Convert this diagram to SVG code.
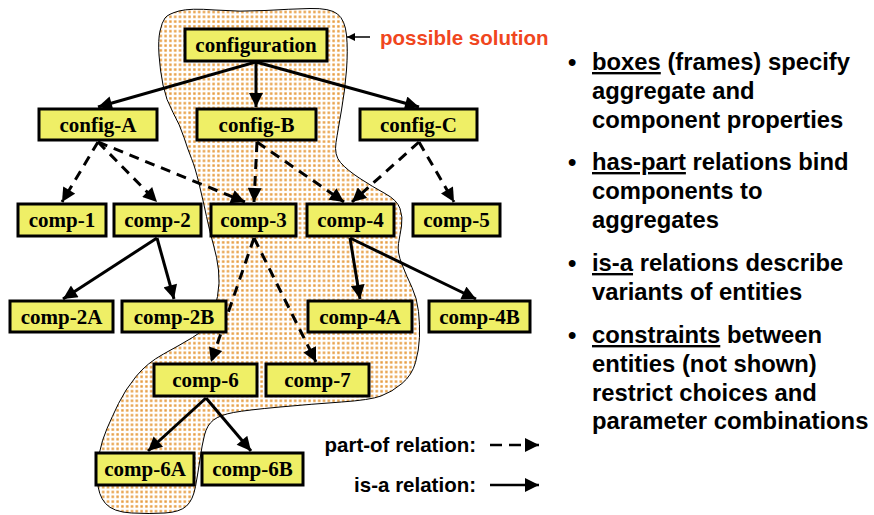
<svg xmlns="http://www.w3.org/2000/svg" width="874" height="515" viewBox="0 0 874 515">
  <defs>
    <pattern id="dots" width="4.8" height="4.8" patternUnits="userSpaceOnUse">
      <rect x="1.2" y="1.2" width="2.4" height="2.4" fill="#E69A3C"/>
    </pattern>
    <marker id="ah" viewBox="0 0 10 10" refX="10" refY="5" markerWidth="15" markerHeight="14" markerUnits="userSpaceOnUse" orient="auto">
      <path d="M0,0 L10,5 L0,10 z" fill="#000"/>
    </marker>
    <marker id="ahs" viewBox="0 0 10 10" refX="10" refY="5" markerWidth="9" markerHeight="8" markerUnits="userSpaceOnUse" orient="auto">
      <path d="M0,0 L10,5 L0,10 z" fill="#000"/>
    </marker>
  </defs>
  <style>
    .box { fill: #EFEF66; stroke: #000; stroke-width: 3; }
    .lbl { font-family: "Liberation Serif", "Times New Roman", serif; font-weight: bold; font-size: 21px; text-anchor: middle; fill: #000; }
    .isa { stroke: #000; stroke-width: 3; fill: none; marker-end: url(#ah); }
    .part { stroke: #000; stroke-width: 3; fill: none; stroke-dasharray: 10 7; marker-end: url(#ah); }
    .sans { font-family: "Liberation Sans", Arial, sans-serif; font-weight: bold; fill: #000; }
    .bul { font-size: 23.8px; }
    .u { text-decoration: underline; }
  </style>

  <rect width="874" height="515" fill="#fff"/>

  <!-- region marking one possible solution -->
  <path id="solution" d="M165,18 Q168,14 179,11 Q190,8 215,10 Q240,12 265,10.5 Q290,9 310,8.5 Q330,8 337.5,14 Q345,20 346.5,35 Q348,50 346.5,70 Q345,90 341.5,110 Q338,130 336,142.5 Q334,155 340.5,162.5 Q347,170 360,178.5 Q373,187 385,193.5 Q397,200 400,208.5 Q403,217 401.5,226 Q400,235 398.5,243.5 Q397,252 402,264.5 Q407,277 412,287.5 Q417,298 418.5,311.5 Q420,325 419.5,337.5 Q419,350 415.5,362.5 Q412,375 402,383.5 Q392,392 381,396 Q370,400 341.5,402 Q313,404 280,407 Q247,410 233.5,412.5 Q220,415 213.5,420 Q207,425 204.5,435 Q202,445 200,459 Q198,473 195.5,486.5 Q193,500 186.5,506 Q180,512 165,513 Q150,514 131.5,513 Q113,512 105.5,503.5 Q98,495 97.5,480 Q97,465 99.5,452.5 Q102,440 107,428.5 Q112,417 118.5,403.5 Q125,390 136,376.5 Q147,363 163.5,354 Q180,345 192.5,337.5 Q205,330 210,320 Q215,310 217.5,296.5 Q220,283 218.5,270 Q217,257 213.5,245 Q210,233 206.5,216.5 Q203,200 199,183.5 Q195,167 191.5,158.5 Q188,150 184,137.5 Q180,125 173,112.5 Q166,100 163,85 Q160,70 159,55 Q158,40 160,31 Q162,22 165,18 Z" fill="url(#dots)" stroke="#000" stroke-width="1"/>

  <!-- connectors -->
  <g id="connectors">
    <line class="isa" x1="256" y1="62" x2="98" y2="107"/>
    <line class="isa" x1="256" y1="62" x2="256" y2="107"/>
    <line class="isa" x1="256" y1="62" x2="419" y2="107"/>
    <line class="part" x1="98" y1="142" x2="62" y2="202"/>
    <line class="part" x1="98" y1="142" x2="157" y2="202"/>
    <line class="part" x1="98" y1="142" x2="245" y2="202"/>
    <line class="part" x1="257" y1="142" x2="254" y2="202"/>
    <line class="part" x1="257" y1="142" x2="344" y2="202"/>
    <line class="part" x1="419" y1="142" x2="352" y2="202"/>
    <line class="part" x1="419" y1="142" x2="454" y2="202"/>
    <line class="isa" x1="157" y1="238" x2="63" y2="299"/>
    <line class="isa" x1="157" y1="238" x2="174" y2="299"/>
    <line class="isa" x1="350" y1="238" x2="360" y2="299"/>
    <line class="isa" x1="350" y1="238" x2="476" y2="299"/>
    <line class="part" x1="254" y1="238" x2="211" y2="362"/>
    <line class="part" x1="254" y1="238" x2="316" y2="362"/>
    <line class="isa" x1="206" y1="398" x2="148" y2="451"/>
    <line class="isa" x1="206" y1="398" x2="251" y2="451"/>
  </g>

  <!-- frames -->
  <g id="configuration"><rect class="box" x="185" y="29" width="142" height="32"/><text class="lbl" x="256" y="52">configuration</text></g>
  <g id="config-A"><rect class="box" x="39" y="109" width="118" height="31"/><text class="lbl" x="98" y="132">config-A</text></g>
  <g id="config-B"><rect class="box" x="197" y="109" width="119" height="31"/><text class="lbl" x="256.5" y="132">config-B</text></g>
  <g id="config-C"><rect class="box" x="360" y="109" width="117" height="31"/><text class="lbl" x="418.5" y="132">config-C</text></g>

  <g id="comp-1"><rect class="box" x="18" y="204" width="88" height="32"/><text class="lbl" x="62" y="227">comp-1</text></g>
  <g id="comp-2"><rect class="box" x="114" y="204" width="87" height="32"/><text class="lbl" x="157.5" y="227">comp-2</text></g>
  <g id="comp-3"><rect class="box" x="211" y="204" width="85" height="32"/><text class="lbl" x="253.5" y="227">comp-3</text></g>
  <g id="comp-4"><rect class="box" x="307" y="204" width="87" height="32"/><text class="lbl" x="350.5" y="227">comp-4</text></g>
  <g id="comp-5"><rect class="box" x="413" y="204" width="87" height="32"/><text class="lbl" x="456.5" y="227">comp-5</text></g>

  <g id="comp-2A"><rect class="box" x="10" y="301" width="103" height="31"/><text class="lbl" x="61.5" y="324">comp-2A</text></g>
  <g id="comp-2B"><rect class="box" x="122" y="301" width="104" height="31"/><text class="lbl" x="174" y="324">comp-2B</text></g>
  <g id="comp-4A"><rect class="box" x="308" y="301" width="104" height="31"/><text class="lbl" x="360" y="324">comp-4A</text></g>
  <g id="comp-4B"><rect class="box" x="429" y="301" width="101" height="31"/><text class="lbl" x="479.5" y="324">comp-4B</text></g>

  <g id="comp-6"><rect class="box" x="154" y="364" width="103" height="32"/><text class="lbl" x="205.5" y="387">comp-6</text></g>
  <g id="comp-7"><rect class="box" x="266" y="364" width="103" height="32"/><text class="lbl" x="317.5" y="387">comp-7</text></g>
  <g id="comp-6A"><rect class="box" x="96" y="453" width="98" height="32"/><text class="lbl" x="145" y="476">comp-6A</text></g>
  <g id="comp-6B"><rect class="box" x="202" y="453" width="101" height="32"/><text class="lbl" x="252.5" y="476">comp-6B</text></g>

  <!-- annotation -->
  <g id="annotation">
    <line x1="370" y1="37" x2="347" y2="37" stroke="#000" stroke-width="1.5" marker-end="url(#ahs)"/>
    <text class="sans" x="380" y="45" font-size="20.5" style="fill:#F0461E">possible solution</text>
  </g>

  <!-- legend -->
  <g id="legend">
    <text class="sans" x="476" y="452" font-size="20.5" text-anchor="end">part-of relation:</text>
    <line x1="490" y1="445" x2="539" y2="445" stroke="#000" stroke-width="2.5" stroke-dasharray="12 7" marker-end="url(#ah)"/>
    <text class="sans" x="476" y="492" font-size="20.5" text-anchor="end">is-a relation:</text>
    <line x1="490" y1="485" x2="539" y2="485" stroke="#000" stroke-width="2.5" marker-end="url(#ah)"/>
  </g>

  <!-- explanatory bullets -->
  <g id="bullets" class="sans bul">
    <text x="568" y="70">•</text>
    <text x="592" y="70"><tspan class="u">boxes</tspan> (frames) specify</text>
    <text x="592" y="99">aggregate and</text>
    <text x="592" y="128">component properties</text>

    <text x="568" y="170">•</text>
    <text x="592" y="170"><tspan class="u">has-part</tspan> relations bind</text>
    <text x="592" y="199">components to</text>
    <text x="592" y="228">aggregates</text>

    <text x="568" y="271">•</text>
    <text x="592" y="271"><tspan class="u">is-a</tspan> relations describe</text>
    <text x="592" y="300">variants of entities</text>

    <text x="568" y="343">•</text>
    <text x="592" y="343"><tspan class="u">constraints</tspan> between</text>
    <text x="592" y="372">entities (not shown)</text>
    <text x="592" y="401">restrict choices and</text>
    <text x="592" y="429">parameter combinations</text>
  </g>
</svg>
